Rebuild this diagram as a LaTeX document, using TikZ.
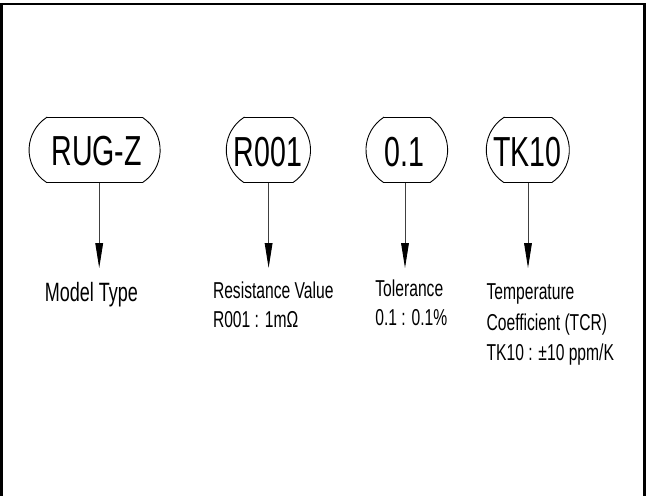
\documentclass[tikz,border=0pt]{standalone}
\usepackage{fontspec}
\newfontfamily\cad[FakeStretch=0.68]{Liberation Sans}
\usetikzlibrary{arrows.meta}
\begin{document}
\begin{tikzpicture}[x=1pt,y=-1pt,
  tagtxt/.style={inner sep=0pt,text height=30pt,text depth=0pt,
    font=\cad\fontsize{42}{42}\selectfont},
  tagline/.style={draw=black,line width=0.9pt},
  lbl/.style={inner sep=0pt,anchor=base west,font=\cad\fontsize{23}{23}\selectfont},
  lblbig/.style={lbl,font=\cad\fontsize{26.5}{26.5}\selectfont},
  arr/.style={draw=black!75,line width=0.9pt,-{Triangle[length=25pt,width=7.7pt,black]}},
  frame/.style={draw=black,line width=2.2pt}]
\useasboundingbox (0,0) rectangle (647,495);
\draw[frame] (1.5,496) -- (1.5,4) -- (644.4,4) -- (644.4,496);

% tag shapes: flat top/bottom, arc sides
\def\tagoutline#1#2{%
  \draw[tagline,shift={(#1)}] (-#2,-32.5) -- (#2,-32.5)
    arc[start angle=-56.7,end angle=56.7,radius=38.9]
    -- (-#2,32.5)
    arc[start angle=123.3,end angle=236.7,radius=38.9] -- cycle;}

\coordinate (c1) at (94.6,150);
\coordinate (c2) at (268.4,150);
\coordinate (c3) at (406.8,150);
\coordinate (c4) at (527.8,150);
\tagoutline{c1}{48}
\tagoutline{c2}{24.6}
\tagoutline{c3}{23.3}
\tagoutline{c4}{24}

\node[tagtxt] (rug) at (96.6,150.3) {RUG-Z};
\node[tagtxt] (r001) at (267.8,151.5) {R001};
\node[tagtxt] (tol) at (404.8,151) {0.1};
\node[tagtxt] (tk) at (527.5,151) {TK10};

% labels
\node[lblbig] (mt) at (44.6,301.7) {Model Type};
\node[lbl] (rv1) at (212.8,298.3) {Resistance Value};
\node[lbl] (rv2) at (212.8,327.7) {R001 : 1mΩ};
\node[lbl] (tl1) at (375.2,296.7) {Tolerance};
\node[lbl] (tl2) at (375.2,325) {0.1 : 0.1\%};
\node[lbl] (tc1) at (486.4,299) {Temperature};
\node[lbl] (tc2) at (486.4,330) {Coefficient (TCR)};
\node[lbl] (tc3) at (486.4,360.7) {TK10 : ±10 ppm/K};

% connectors
\coordinate (a1) at (99.2,182.5);  \coordinate (b1) at (99.2,268);
\coordinate (a2) at (268.6,182.5); \coordinate (b2) at (268.6,268);
\coordinate (a3) at (405,182.5);   \coordinate (b3) at (405,268);
\coordinate (a4) at (528,182.5);   \coordinate (b4) at (528,268);
\draw[arr] (a1) -- (b1);
\draw[arr] (a2) -- (b2);
\draw[arr] (a3) -- (b3);
\draw[arr] (a4) -- (b4);
\end{tikzpicture}
\end{document}
